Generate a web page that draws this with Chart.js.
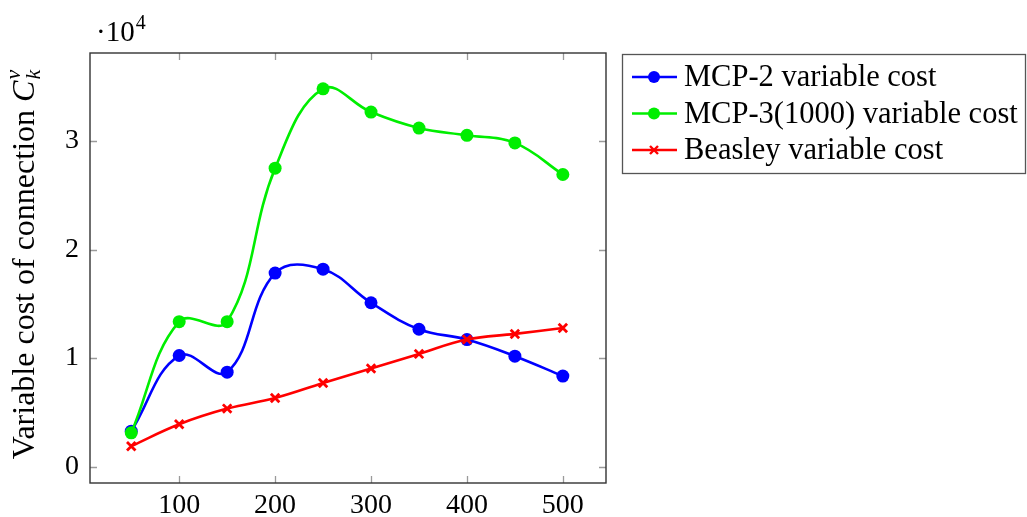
<!DOCTYPE html>
<html>
<head>
<meta charset="utf-8">
<script src="https://cdn.jsdelivr.net/npm/chart.js@4.4.1/dist/chart.umd.min.js"></script>
<style>
  html, body { margin: 0; padding: 0; background: #fff; }
  #wrap { width: 1027px; height: 517px; }
</style>
</head>
<body>
<div id="wrap"><canvas id="chart" width="1027" height="517"></canvas></div>
<script>
// data (costs in units, axis shows x10^4)
const nodes = [50, 100, 150, 200, 250, 300, 350, 400, 450, 500];
const mcp2 = [3270, 10240, 8710, 17830, 18190, 15100, 12660, 11710, 10180, 8350];
const mcp3 = [3120, 13360, 13360, 27490, 34800, 32660, 31190, 30520, 29820, 26910];
const beasley = [1890, 3910, 5350, 6330, 7710, 9050, 10390, 11710, 12230, 12780];
const xTicks = [100, 200, 300, 400, 500];
const yTicks = [0, 10000, 20000, 30000];

const FONT = '"Liberation Serif", "DejaVu Serif", serif';

const legendItems = [
  { label: 'MCP-2 variable cost', color: '#0000ff', mark: 'circle' },
  { label: 'MCP-3(1000) variable cost', color: '#00ee00', mark: 'circle' },
  { label: 'Beasley variable cost', color: '#ff0000', mark: 'cross' }
];

function toXY(ys) {
  return nodes.map((x, i) => ({ x: x, y: ys[i] }));
}

const axisDecor = {
  id: 'axisDecor',
  beforeDatasetsDraw(chart) {
    const { ctx, chartArea: a, scales } = chart;
    ctx.save();
    ctx.strokeStyle = '#9a9a9a';
    ctx.lineWidth = 1.3;
    const tl = 7;
    ctx.beginPath();
    xTicks.forEach(v => {
      const px = Math.round(scales.x.getPixelForValue(v)) + 0.5;
      ctx.moveTo(px, a.bottom); ctx.lineTo(px, a.bottom - tl);
      ctx.moveTo(px, a.top); ctx.lineTo(px, a.top + tl);
    });
    yTicks.forEach(v => {
      const py = Math.round(scales.y.getPixelForValue(v)) + 0.5;
      ctx.moveTo(a.left, py); ctx.lineTo(a.left + tl, py);
      ctx.moveTo(a.right, py); ctx.lineTo(a.right - tl, py);
    });
    ctx.stroke();
    ctx.restore();
  },
  afterDraw(chart) {
    const { ctx, chartArea: a } = chart;
    ctx.save();
    // frame
    ctx.strokeStyle = '#333';
    ctx.lineWidth = 1.4;
    ctx.strokeRect(a.left, a.top, a.right - a.left, a.bottom - a.top);

    // scale factor label
    ctx.fillStyle = '#000';
    ctx.textBaseline = 'alphabetic';
    ctx.textAlign = 'left';
    ctx.font = '29px ' + FONT;
    ctx.fillText('\u00b710', 96, 41);
    const w10 = ctx.measureText('\u00b710').width;
    ctx.font = '20px ' + FONT;
    ctx.fillText('4', 96 + w10 + 1, 29);

    // y axis title, rotated
    ctx.save();
    ctx.translate(34, 0);
    ctx.rotate(-Math.PI / 2);
    const main = 'Variable cost of connection ';
    ctx.font = '32px ' + FONT;
    const wMain = ctx.measureText(main).width;
    ctx.font = 'italic 32px ' + FONT;
    const wC = ctx.measureText('C').width;
    ctx.font = 'italic 22px ' + FONT;
    const wK = ctx.measureText('k').width;
    const total = wMain + wC + wK + 2;
    const start = -264 - total / 2;
    ctx.font = '32px ' + FONT;
    ctx.fillText(main, start, 0);
    ctx.font = 'italic 32px ' + FONT;
    ctx.fillText('C', start + wMain, 0);
    ctx.font = 'italic 22px ' + FONT;
    ctx.fillText('k', start + wMain + wC + 1, 6);
    ctx.fillText('v', start + wMain + wC + 1, -14);
    ctx.restore();

    // legend box
    const bx = 622, by = 54, bw = 403, bh = 119;
    ctx.fillStyle = '#fff';
    ctx.fillRect(bx, by, bw, bh);
    ctx.strokeStyle = '#555';
    ctx.lineWidth = 1.3;
    ctx.strokeRect(bx + 0.5, by + 0.5, bw, bh);
    const rows = [77, 113.5, 150];
    legendItems.forEach((it, i) => {
      const y = rows[i];
      ctx.strokeStyle = it.color;
      ctx.fillStyle = it.color;
      ctx.lineWidth = 2.5;
      ctx.beginPath();
      ctx.moveTo(632, y); ctx.lineTo(677, y);
      ctx.stroke();
      if (it.mark === 'circle') {
        ctx.beginPath();
        ctx.arc(654, y, 6, 0, Math.PI * 2);
        ctx.fill();
      } else {
        ctx.lineWidth = 2.4;
        ctx.beginPath();
        ctx.moveTo(650, y - 4); ctx.lineTo(658, y + 4);
        ctx.moveTo(650, y + 4); ctx.lineTo(658, y - 4);
        ctx.stroke();
      }
      ctx.fillStyle = '#000';
      ctx.font = '30.5px ' + FONT;
      ctx.textBaseline = 'middle';
      ctx.fillText(it.label, 684, y + 1);
    });
    ctx.restore();
  }
};

new Chart(document.getElementById('chart'), {
  type: 'line',
  data: {
    datasets: [
      {
        label: 'MCP-2 variable cost',
        data: toXY(mcp2),
        borderColor: '#0000ff',
        backgroundColor: '#0000ff',
        pointRadius: 6.5,
        pointBorderWidth: 0,
        order: 3
      },
      {
        label: 'MCP-3(1000) variable cost',
        data: toXY(mcp3),
        borderColor: '#00ee00',
        backgroundColor: '#00ee00',
        pointRadius: 6.5,
        pointBorderWidth: 0,
        order: 2
      },
      {
        label: 'Beasley variable cost',
        data: toXY(beasley),
        borderColor: '#ff0000',
        backgroundColor: '#ff0000',
        pointStyle: 'crossRot',
        pointRadius: 6,
        pointBorderWidth: 2.8,
        order: 1
      }
    ]
  },
  options: {
    responsive: false,
    animation: false,
    devicePixelRatio: 1,
    layout: { padding: { left: 50, right: 421, top: 53, bottom: 0 } },
    elements: {
      line: { borderWidth: 2.6, tension: 0.4, fill: false }
    },
    plugins: {
      legend: { display: false },
      tooltip: { enabled: false }
    },
    scales: {
      x: {
        type: 'linear',
        min: 7,
        max: 545,
        afterBuildTicks: s => { s.ticks = xTicks.map(v => ({ value: v })); },
        afterFit: s => { s.height = 34; },
        grid: { display: false, drawTicks: false },
        border: { display: false },
        ticks: { color: '#000', font: { family: FONT, size: 28 }, padding: 6, maxRotation: 0 }
      },
      y: {
        type: 'linear',
        min: -1500,
        max: 38100,
        afterBuildTicks: s => { s.ticks = yTicks.map(v => ({ value: v })); },
        afterFit: s => { s.width = 40; },
        grid: { display: false, drawTicks: false },
        border: { display: false },
        ticks: {
          color: '#000',
          font: { family: FONT, size: 28 },
          padding: 11,
          callback: v => String(v / 10000)
        }
      }
    }
  },
  plugins: [axisDecor]
});
</script>
</body>
</html>
